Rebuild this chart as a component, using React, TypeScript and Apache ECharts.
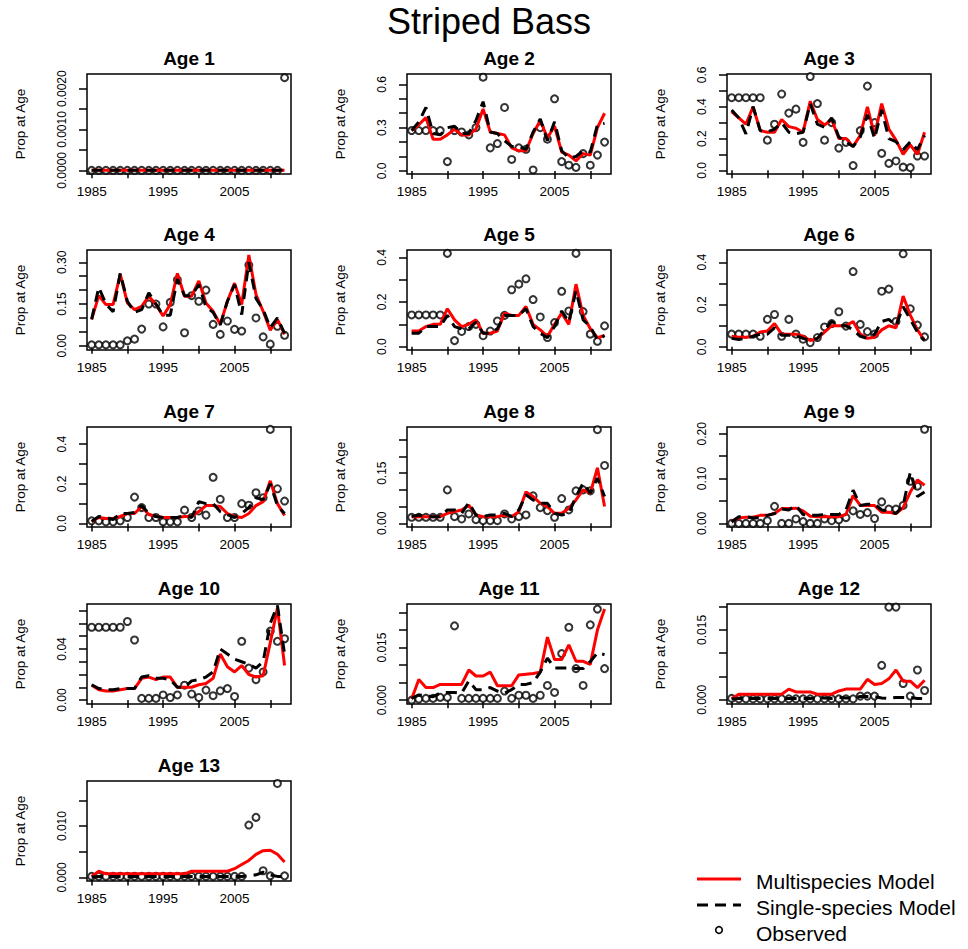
import React, { useEffect, useRef } from 'react';
import * as echarts from 'echarts';

const years = [1985, 1986, 1987, 1988, 1989, 1990, 1991, 1992, 1993, 1994, 1995, 1996, 1997, 1998, 1999, 2000, 2001, 2002, 2003, 2004, 2005, 2006, 2007, 2008, 2009, 2010, 2011, 2012];
const xTickYears = [1985, 1990, 1995, 2000, 2005, 2010];
const xLabelYears = [1985, 1995, 2005];

const obsAge1 = [0, 0, 0, 0, 0, 0, 0, 0, 0, 0, 0, 0, 0, 0, 0, 0, 0, 0, 0, 0, 0, 0, 0, 0, 0, 0, 0, 0.00227];
const multiAge1 = [0, 0, 0, 0, 0, 0, 0, 0, 0, 0, 0, 0, 0, 0, 0, 0, 0, 0, 0, 0, 0, 0, 0, 0, 0, 0, 0, 0];
const singleAge1 = [0, 0, 0, 0, 0, 0, 0, 0, 0, 0, 0, 0, 0, 0, 0, 0, 0, 0, 0, 0, 0, 0, 0, 0, 0, 0, 0, 0];

const obsAge2 = [0.28, 0.28, 0.28, 0.28, 0.28, 0.065, 0.28, 0.27, 0.25, 0.30, 0.65, 0.16, 0.19, 0.44, 0.08, 0.16, 0.15, 0.007, 0.30, 0.22, 0.50, 0.065, 0.04, 0.025, 0.12, 0.04, 0.11, 0.20];
const multiAge2 = [0.28, 0.32, 0.37, 0.22, 0.22, 0.25, 0.29, 0.25, 0.25, 0.29, 0.43, 0.27, 0.26, 0.25, 0.16, 0.14, 0.14, 0.26, 0.35, 0.23, 0.31, 0.13, 0.11, 0.07, 0.12, 0.11, 0.30, 0.40];
const singleAge2 = [0.28, 0.34, 0.44, 0.26, 0.25, 0.30, 0.31, 0.26, 0.26, 0.35, 0.48, 0.27, 0.26, 0.21, 0.17, 0.17, 0.15, 0.27, 0.36, 0.21, 0.34, 0.14, 0.09, 0.10, 0.14, 0.13, 0.32, 0.33];

const obsAge3 = [0.457, 0.457, 0.457, 0.457, 0.457, 0.19, 0.29, 0.48, 0.36, 0.385, 0.176, 0.59, 0.42, 0.19, 0.30, 0.14, 0.176, 0.03, 0.25, 0.53, 0.30, 0.107, 0.044, 0.059, 0.02, 0.017, 0.09, 0.09];
const multiAge3 = [0.37, 0.33, 0.29, 0.40, 0.25, 0.24, 0.24, 0.32, 0.275, 0.265, 0.24, 0.435, 0.32, 0.285, 0.32, 0.20, 0.20, 0.15, 0.22, 0.40, 0.22, 0.42, 0.26, 0.19, 0.10, 0.16, 0.10, 0.24];
const singleAge3 = [0.38, 0.33, 0.23, 0.40, 0.25, 0.24, 0.26, 0.30, 0.24, 0.23, 0.24, 0.42, 0.29, 0.27, 0.33, 0.21, 0.18, 0.15, 0.21, 0.35, 0.20, 0.38, 0.20, 0.18, 0.13, 0.18, 0.13, 0.22];

const obsAge4 = [0.0035, 0.0035, 0.0035, 0.0035, 0.0035, 0.018, 0.024, 0.06, 0.15, 0.15, 0.068, 0.156, 0.237, 0.047, 0.18, 0.16, 0.20, 0.077, 0.041, 0.089, 0.059, 0.053, 0.29, 0.10, 0.032, 0.006, 0.07, 0.038];
const multiAge4 = [0.095, 0.18, 0.148, 0.148, 0.257, 0.154, 0.13, 0.142, 0.178, 0.148, 0.107, 0.148, 0.26, 0.178, 0.178, 0.233, 0.154, 0.124, 0.077, 0.16, 0.225, 0.148, 0.326, 0.184, 0.124, 0.056, 0.095, 0.041];
const singleAge4 = [0.095, 0.21, 0.15, 0.122, 0.26, 0.16, 0.12, 0.13, 0.19, 0.15, 0.11, 0.11, 0.24, 0.18, 0.18, 0.22, 0.14, 0.12, 0.075, 0.16, 0.22, 0.112, 0.30, 0.17, 0.13, 0.065, 0.10, 0.045];

const obsAge5 = [0.142, 0.142, 0.142, 0.142, 0.142, 0.418, 0.027, 0.068, 0.09, 0.10, 0.049, 0.07, 0.115, 0.14, 0.255, 0.28, 0.304, 0.211, 0.133, 0.041, 0.108, 0.248, 0.16, 0.418, 0.157, 0.056, 0.024, 0.093];
const multiAge5 = [0.07, 0.07, 0.09, 0.10, 0.10, 0.17, 0.12, 0.09, 0.10, 0.12, 0.06, 0.06, 0.07, 0.15, 0.14, 0.14, 0.18, 0.10, 0.075, 0.045, 0.10, 0.15, 0.10, 0.28, 0.14, 0.08, 0.04, 0.05];
const singleAge5 = [0.06, 0.06, 0.09, 0.09, 0.09, 0.14, 0.09, 0.08, 0.08, 0.11, 0.06, 0.06, 0.08, 0.14, 0.14, 0.14, 0.17, 0.09, 0.06, 0.04, 0.09, 0.16, 0.11, 0.25, 0.12, 0.09, 0.03, 0.05];

const obsAge6 = [0.06, 0.06, 0.06, 0.06, 0.05, 0.13, 0.153, 0.05, 0.13, 0.06, 0.036, 0.02, 0.044, 0.094, 0.11, 0.166, 0.098, 0.356, 0.106, 0.072, 0.06, 0.263, 0.273, 0.12, 0.44, 0.18, 0.103, 0.047];
const multiAge6 = [0.05, 0.045, 0.045, 0.05, 0.07, 0.075, 0.11, 0.06, 0.06, 0.06, 0.05, 0.03, 0.04, 0.07, 0.10, 0.10, 0.10, 0.12, 0.06, 0.04, 0.045, 0.08, 0.10, 0.09, 0.24, 0.15, 0.08, 0.03];
const singleAge6 = [0.04, 0.035, 0.04, 0.05, 0.06, 0.06, 0.09, 0.055, 0.055, 0.055, 0.04, 0.03, 0.04, 0.08, 0.12, 0.10, 0.10, 0.08, 0.05, 0.04, 0.06, 0.12, 0.13, 0.10, 0.19, 0.13, 0.07, 0.03];

const obsAge7 = [0.013, 0.013, 0.008, 0.008, 0.013, 0.03, 0.133, 0.08, 0.03, 0.03, 0.008, 0.008, 0.008, 0.067, 0.03, 0.063, 0.042, 0.233, 0.122, 0.03, 0.03, 0.10, 0.092, 0.155, 0.13, 0.475, 0.175, 0.113];
const multiAge7 = [0.01, 0.03, 0.025, 0.025, 0.035, 0.05, 0.05, 0.085, 0.045, 0.035, 0.03, 0.03, 0.03, 0.035, 0.035, 0.06, 0.09, 0.09, 0.085, 0.05, 0.035, 0.03, 0.05, 0.09, 0.11, 0.215, 0.10, 0.04];
const singleAge7 = [0.01, 0.035, 0.03, 0.02, 0.05, 0.05, 0.055, 0.09, 0.05, 0.035, 0.03, 0.03, 0.03, 0.04, 0.03, 0.11, 0.10, 0.10, 0.06, 0.045, 0.03, 0.05, 0.08, 0.13, 0.12, 0.20, 0.09, 0.05];

const obsAge8 = [0.018, 0.018, 0.018, 0.018, 0.018, 0.10, 0.02, 0.013, 0.028, 0.011, 0.008, 0.008, 0.008, 0.028, 0.013, 0.02, 0.025, 0.082, 0.047, 0.038, 0.018, 0.074, 0.04, 0.097, 0.10, 0.097, 0.28, 0.173];
const multiAge8 = [0.02, 0.02, 0.02, 0.02, 0.02, 0.03, 0.035, 0.04, 0.054, 0.025, 0.02, 0.02, 0.02, 0.025, 0.02, 0.035, 0.094, 0.08, 0.06, 0.05, 0.03, 0.03, 0.045, 0.07, 0.10, 0.09, 0.166, 0.05];
const singleAge8 = [0.02, 0.025, 0.02, 0.02, 0.02, 0.04, 0.04, 0.03, 0.062, 0.025, 0.02, 0.025, 0.025, 0.03, 0.02, 0.04, 0.085, 0.07, 0.06, 0.06, 0.03, 0.025, 0.03, 0.08, 0.12, 0.09, 0.135, 0.08];

const obsAge9 = [0, 0, 0, 0, 0, 0.006, 0.038, 0, 0, 0.01, 0.004, 0, 0, 0.01, 0.006, 0.008, 0.013, 0.028, 0.02, 0.024, 0.011, 0.048, 0.032, 0.032, 0.04, 0.094, 0.083, 0.21];
const multiAge9 = [0.005, 0.012, 0.014, 0.014, 0.018, 0.018, 0.022, 0.033, 0.033, 0.034, 0.028, 0.016, 0.015, 0.015, 0.015, 0.015, 0.02, 0.062, 0.04, 0.04, 0.04, 0.025, 0.025, 0.022, 0.035, 0.07, 0.097, 0.085];
const singleAge9 = [0.003, 0.015, 0.015, 0.012, 0.013, 0.018, 0.022, 0.032, 0.03, 0.04, 0.02, 0.018, 0.018, 0.02, 0.02, 0.02, 0.03, 0.074, 0.04, 0.043, 0.043, 0.03, 0.027, 0.022, 0.04, 0.114, 0.06, 0.07];

const obsAge10 = [0.057, 0.057, 0.057, 0.057, 0.057, 0.0615, 0.047, 0.0013, 0.0013, 0.0013, 0.004, 0.002, 0.004, 0.0116, 0.0047, 0.002, 0.0078, 0.0034, 0.0072, 0.009, 0.0028, 0.046, 0.025, 0.016, 0.022, 0.054, 0.046, 0.048];
const multiAge10 = [0.0116, 0.008, 0.007, 0.007, 0.008, 0.009, 0.009, 0.017, 0.018, 0.016, 0.018, 0.018, 0.01, 0.01, 0.01, 0.012, 0.013, 0.017, 0.036, 0.026, 0.022, 0.027, 0.02, 0.018, 0.019, 0.045, 0.072, 0.027];
const singleAge10 = [0.012, 0.009, 0.008, 0.008, 0.009, 0.009, 0.009, 0.018, 0.019, 0.017, 0.017, 0.016, 0.01, 0.01, 0.015, 0.016, 0.018, 0.022, 0.04, 0.036, 0.032, 0.03, 0.028, 0.025, 0.03, 0.06, 0.074, 0.036];

const obsAge11 = [0, 0.0003, 0.0005, 0.0005, 0.0008, 0.0008, 0.0212, 0.0005, 0.0005, 0.0005, 0.0005, 0.0005, 0.0005, 0.0026, 0.0005, 0.0014, 0.0014, 0.0005, 0.0014, 0.0042, 0.0022, 0.0133, 0.0208, 0.009, 0.0042, 0.0215, 0.026, 0.009];
const multiAge11 = [0.0003, 0.0059, 0.0036, 0.0036, 0.0045, 0.0045, 0.0045, 0.0045, 0.0086, 0.0069, 0.0069, 0.008, 0.0041, 0.0041, 0.0041, 0.0072, 0.0074, 0.0076, 0.008, 0.018, 0.0116, 0.0116, 0.0158, 0.0111, 0.0111, 0.0102, 0.020, 0.026];
const singleAge11 = [0.0005, 0.0015, 0.0012, 0.001, 0.002, 0.0022, 0.0022, 0.002, 0.0055, 0.003, 0.003, 0.0036, 0.0026, 0.002, 0.003, 0.0045, 0.0045, 0.005, 0.008, 0.012, 0.0092, 0.0092, 0.0092, 0.009, 0.009, 0.011, 0.0135, 0.013];

const obsAge12 = [0.0003, 0.0002, 0.0002, 0.0002, 0.0002, 0.0002, 0.0002, 0.0002, 0.0002, 0.0002, 0.0002, 0.0002, 0.0002, 0.0002, 0.0002, 0.0002, 0.0002, 0.0002, 0.0008, 0.0008, 0.0008, 0.0074, 0.0199, 0.0199, 0.0035, 0.0008, 0.0064, 0.002];
const multiAge12 = [0.0002, 0.0012, 0.0012, 0.0012, 0.0012, 0.0012, 0.0012, 0.0012, 0.0023, 0.0017, 0.0017, 0.0017, 0.0012, 0.0012, 0.0012, 0.0019, 0.0023, 0.0023, 0.0023, 0.0044, 0.0033, 0.0035, 0.0045, 0.0064, 0.004, 0.004, 0.0026, 0.0042];
const singleAge12 = [0.0002, 0.0003, 0.0003, 0.0003, 0.0003, 0.0003, 0.0003, 0.0003, 0.0003, 0.0003, 0.0003, 0.0003, 0.0004, 0.0004, 0.0003, 0.0005, 0.0004, 0.0004, 0.0007, 0.0007, 0.0007, 0.0004, 0.0003, 0.0005, 0.0005, 0.0005, 0.0003, 0.0003];

const obsAge13 = [0.0002, 0.0002, 0.0002, 0.0002, 0.0002, 0.0002, 0.0002, 0.0002, 0.0002, 0.0002, 0.0002, 0.0002, 0.0002, 0.0002, 0.0002, 0.0002, 0.0002, 0.0002, 0.0002, 0.0002, 0.0002, 0.0002, 0.0102, 0.0117, 0.0013, 0.0003, 0.0183, 0.0003];
const multiAge13 = [0.0002, 0.0012, 0.0007, 0.0007, 0.0007, 0.0007, 0.0007, 0.0007, 0.0007, 0.0007, 0.0007, 0.0007, 0.0007, 0.0007, 0.0012, 0.0012, 0.0012, 0.0012, 0.0012, 0.0012, 0.0017, 0.0025, 0.0033, 0.0045, 0.0052, 0.0053, 0.0045, 0.003];
const singleAge13 = [0.0001, 0.0002, 0.0002, 0.0002, 0.0002, 0.0002, 0.0002, 0.0002, 0.0002, 0.0002, 0.0002, 0.0002, 0.0002, 0.0002, 0.0002, 0.0002, 0.0002, 0.0002, 0.0002, 0.0002, 0.0002, 0.0002, 0.0003, 0.0005, 0.001, 0.0005, 0.0002, 0.0002];

const yTicksAge1 = [0, 0.0005, 0.001, 0.0015, 0.002];
const yLabelsAge1 = [0, 0.001, 0.002];
const yTicksAge2 = [0, 0.1, 0.2, 0.3, 0.4, 0.5, 0.6];
const yLabelsAge2 = [0, 0.3, 0.6];
const yTicksAge3 = [0, 0.1, 0.2, 0.3, 0.4, 0.5, 0.6];
const yLabelsAge3 = [0, 0.2, 0.4, 0.6];
const yTicksAge4 = [0, 0.05, 0.1, 0.15, 0.2, 0.25, 0.3];
const yLabelsAge4 = [0, 0.15, 0.3];
const yTicksAge5to7 = [0, 0.1, 0.2, 0.3, 0.4];
const yLabelsAge5to7 = [0, 0.2, 0.4];
const yTicksAge8 = [0, 0.05, 0.1, 0.15, 0.2, 0.25];
const yLabelsAge8 = [0, 0.15];
const yTicksAge9 = [0, 0.05, 0.1, 0.15, 0.2];
const yLabelsAge9 = [0, 0.1, 0.2];
const yTicksAge10 = [0, 0.01, 0.02, 0.03, 0.04, 0.05, 0.06, 0.07];
const yLabelsAge10 = [0, 0.04];
const yTicksAge11 = [0, 0.005, 0.01, 0.015, 0.02, 0.025];
const yLabelsAge11 = [0, 0.015];
const yTicksAge12 = [0, 0.005, 0.01, 0.015, 0.02];
const yLabelsAge12 = [0, 0.015];
const yTicksAge13 = [0, 0.005, 0.01, 0.015];
const yLabelsAge13 = [0, 0.01];

const panels = [
  { title: 'Age 1', obs: obsAge1, multi: multiAge1, single: singleAge1, yMin: -0.00009, yMax: 0.00236, ticks: yTicksAge1, labels: yLabelsAge1, dec: 4 },
  { title: 'Age 2', obs: obsAge2, multi: multiAge2, single: singleAge2, yMin: -0.021, yMax: 0.672, ticks: yTicksAge2, labels: yLabelsAge2, dec: 1 },
  { title: 'Age 3', obs: obsAge3, multi: multiAge3, single: singleAge3, yMin: -0.023, yMax: 0.606, ticks: yTicksAge3, labels: yLabelsAge3, dec: 1 },
  { title: 'Age 4', obs: obsAge4, multi: multiAge4, single: singleAge4, yMin: -0.015, yMax: 0.344, ticks: yTicksAge4, labels: yLabelsAge4, dec: 2 },
  { title: 'Age 5', obs: obsAge5, multi: multiAge5, single: singleAge5, yMin: -0.015, yMax: 0.433, ticks: yTicksAge5to7, labels: yLabelsAge5to7, dec: 1 },
  { title: 'Age 6', obs: obsAge6, multi: multiAge6, single: singleAge6, yMin: -0.015, yMax: 0.458, ticks: yTicksAge5to7, labels: yLabelsAge5to7, dec: 1 },
  { title: 'Age 7', obs: obsAge7, multi: multiAge7, single: singleAge7, yMin: -0.018, yMax: 0.487, ticks: yTicksAge5to7, labels: yLabelsAge5to7, dec: 1 },
  { title: 'Age 8', obs: obsAge8, multi: multiAge8, single: singleAge8, yMin: -0.011, yMax: 0.288, ticks: yTicksAge8, labels: yLabelsAge8, dec: 2 },
  { title: 'Age 9', obs: obsAge9, multi: multiAge9, single: singleAge9, yMin: -0.008, yMax: 0.215, ticks: yTicksAge9, labels: yLabelsAge9, dec: 2 },
  { title: 'Age 10', obs: obsAge10, multi: multiAge10, single: singleAge10, yMin: -0.0031, yMax: 0.0752, ticks: yTicksAge10, labels: yLabelsAge10, dec: 2 },
  { title: 'Age 11', obs: obsAge11, multi: multiAge11, single: singleAge11, yMin: -0.0011, yMax: 0.02745, ticks: yTicksAge11, labels: yLabelsAge11, dec: 3 },
  { title: 'Age 12', obs: obsAge12, multi: multiAge12, single: singleAge12, yMin: -0.0009, yMax: 0.02057, ticks: yTicksAge12, labels: yLabelsAge12, dec: 3 },
  { title: 'Age 13', obs: obsAge13, multi: multiAge13, single: singleAge13, yMin: -0.0007, yMax: 0.01878, ticks: yTicksAge13, labels: yLabelsAge13, dec: 3 },
];

const FONT = '"Liberation Sans", Arial, Helvetica, sans-serif';
const colLeft = [87, 407, 727];
const rowTop = [74, 250, 427, 604, 781];
const gridW = 204;
const gridH = 100;
const X_MIN = 1984.35;
const X_MAX = 2012.9;

function buildOption() {
  const grid: any[] = [];
  const xAxis: any[] = [];
  const yAxis: any[] = [];
  const series: any[] = [];
  const graphic: any[] = [];

  panels.forEach((p, i) => {
    const c = i % 3;
    const r = Math.floor(i / 3);
    grid.push({
      left: colLeft[c], top: rowTop[r], width: gridW, height: gridH,
      show: true, borderColor: '#000', borderWidth: 1.5, backgroundColor: 'transparent',
    });
    xAxis.push({
      type: 'value', gridIndex: i, min: X_MIN, max: X_MAX,
      axisLine: { show: false }, splitLine: { show: false },
      axisTick: { show: true, customValues: xTickYears, length: 8, lineStyle: { color: '#000', width: 1.5 } },
      axisLabel: { customValues: xLabelYears, showMinLabel: true, showMaxLabel: true, margin: 10, color: '#000', fontSize: 13.5, fontFamily: FONT, formatter: (v: number) => String(Math.round(v)) },
    });
    yAxis.push({
      type: 'value', gridIndex: i, min: p.yMin, max: p.yMax,
      name: 'Prop at Age', nameLocation: 'middle', nameGap: 60, nameRotate: 90,
      nameTextStyle: { color: '#000', fontSize: 13.5, fontFamily: FONT },
      axisLine: { show: false }, splitLine: { show: false },
      axisTick: { show: true, customValues: p.ticks, length: 8, lineStyle: { color: '#000', width: 1.5 } },
      axisLabel: { customValues: p.labels, showMinLabel: true, showMaxLabel: true, hideOverlap: false, rotate: 90, margin: 19, color: '#000', fontSize: 12, fontFamily: FONT, formatter: (v: number) => v.toFixed(p.dec) },
    });
    series.push({
      name: 'Observed', type: 'scatter', xAxisIndex: i, yAxisIndex: i,
      data: years.map((y, k) => [y, p.obs[k]]),
      symbol: 'emptyCircle', symbolSize: 7,
      itemStyle: { color: '#000', borderColor: '#000', borderWidth: 1.3 },
      z: 2, silent: true,
    });
    series.push({
      name: 'Multispecies Model', type: 'line', xAxisIndex: i, yAxisIndex: i,
      data: years.map((y, k) => [y, p.multi[k]]),
      showSymbol: false, symbol: 'none',
      lineStyle: { color: '#ff0000', width: 3 },
      z: 3, silent: true,
    });
    series.push({
      name: 'Single-species Model', type: 'line', xAxisIndex: i, yAxisIndex: i,
      data: years.map((y, k) => [y, p.single[k]]),
      showSymbol: false, symbol: 'none',
      lineStyle: { color: '#000', width: 3, type: [11, 7] },
      z: 4, silent: true,
    });
    graphic.push({
      type: 'text', x: colLeft[c] + gridW / 2, y: rowTop[r] - 16,
      style: { text: p.title, fontSize: 19, fontWeight: 'bold', fontFamily: FONT, fill: '#000', align: 'center', verticalAlign: 'middle' },
    });
  });

  graphic.push({
    type: 'text', x: 489, y: 21,
    style: { text: 'Striped Bass', fontSize: 36, fontFamily: FONT, fill: '#000', align: 'center', verticalAlign: 'middle' },
  });
  graphic.push({ type: 'line', shape: { x1: 697, y1: 879, x2: 741, y2: 879 }, style: { stroke: '#ff0000', lineWidth: 3 } });
  graphic.push({ type: 'line', shape: { x1: 697, y1: 905, x2: 741, y2: 905 }, style: { stroke: '#000', lineWidth: 3, lineDash: [11, 7] } });
  graphic.push({ type: 'circle', shape: { cx: 719, cy: 930, r: 3.3 }, style: { fill: 'none', stroke: '#000', lineWidth: 1.6 } });
  const legendTexts = ['Multispecies Model', 'Single-species Model', 'Observed'];
  const legendY = [881, 907, 933];
  legendTexts.forEach((t, k) => {
    graphic.push({
      type: 'text', x: 756, y: legendY[k],
      style: { text: t, fontSize: 21, fontFamily: FONT, fill: '#000', align: 'left', verticalAlign: 'middle' },
    });
  });

  return {
    animation: false,
    backgroundColor: '#fff',
    grid, xAxis, yAxis, series, graphic,
  };
}

export default function App() {
  const ref = useRef<HTMLDivElement>(null);
  useEffect(() => {
    if (!ref.current) return;
    const chart = echarts.init(ref.current, undefined, { renderer: 'svg' });
    chart.setOption(buildOption() as any);
    return () => chart.dispose();
  }, []);
  return <div ref={ref} style={{ position: 'absolute', left: 0, top: 0, width: 968, height: 949 }} />;
}
